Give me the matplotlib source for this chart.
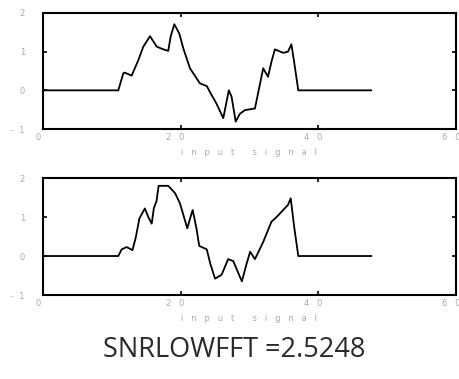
import matplotlib
matplotlib.use('Agg')
import matplotlib.pyplot as plt
from matplotlib.ticker import FuncFormatter
from matplotlib.transforms import ScaledTranslation

# traced vertices of the two signals
x_top = [0, 10.94, 11.67, 11.87, 12.88, 13.85, 14.58, 15.55, 16.52, 17.49, 18.2, 18.55,
         19.08, 19.8, 20.4, 21.36, 22.8, 23.8, 24.5, 25.2, 26.2, 27.0, 27.4, 28.0, 28.6,
         29.35, 30.8, 31.4, 32.0, 32.7, 33.2, 33.7, 34.9, 35.6, 36.1, 36.6, 37.1, 47.7]
y_top = [0, 0, 0.44, 0.46, 0.38, 0.78, 1.13, 1.40, 1.13, 1.06, 1.02, 1.39,
         1.71, 1.47, 1.08, 0.57, 0.18, 0.11, -0.12, -0.34, -0.72, 0.0, -0.16, -0.81, -0.61,
         -0.51, -0.47, 0.05, 0.57, 0.35, 0.74, 1.06, 0.97, 1.0, 1.19, 0.61, 0, 0]

x_bot = [0, 10.94, 11.43, 12.16, 13.0, 13.5, 14.0, 14.8, 15.3, 15.8, 16.1, 16.5, 16.8,
         18.2, 19.2, 19.9, 20.4, 20.97, 21.4, 21.75, 22.3, 22.7, 23.8, 24.3, 25.0, 25.96,
         26.9, 27.65, 28.9, 29.6, 30.1, 30.8, 32.0, 33.2, 33.95, 35.6, 36.0, 36.5, 37.1, 47.7]
y_bot = [0, 0, 0.17, 0.23, 0.15, 0.49, 0.96, 1.22, 1.0, 0.83, 1.22, 1.41, 1.80,
         1.80, 1.61, 1.35, 1.05, 0.71, 0.98, 1.18, 0.71, 0.26, 0.17, -0.19, -0.58, -0.48,
         -0.08, -0.13, -0.65, -0.19, 0.11, -0.08, 0.36, 0.88, 1.0, 1.31, 1.48, 0.75, 0, 0]

xticks = [0, 20, 40, 60]
yticks = [-1, 0, 1, 2]
xlabel = 'input signal'
title = 'SNRLOWFFT =2.5248'

gap = '   '
xfmt = FuncFormatter(lambda v, p: gap.join('%d' % v))
yfmt = FuncFormatter(lambda v, p: '  '.join('%d' % v))
grey = '#aaaaaa'

fig = plt.figure(figsize=(4.6, 3.79), dpi=100)
ax1 = fig.add_axes([0.0935, 0.6596, 0.8975, 0.3061])
ax2 = fig.add_axes([0.0935, 0.2216, 0.8975, 0.3087])
shift = ScaledTranslation(-5 / 100, 0, fig.dpi_scale_trans)

for ax, xs, ys in [(ax1, x_top, y_top), (ax2, x_bot, y_bot)]:
    ax.plot(xs, ys, color='black', lw=1.3)
    ax.set_xlim(0, 60)
    ax.set_ylim(-1, 2)
    ax.set_xticks(xticks)
    ax.set_yticks(yticks)
    ax.xaxis.set_major_formatter(xfmt)
    ax.yaxis.set_major_formatter(yfmt)
    ax.tick_params(direction='in', length=3, width=1.2, top=True, right=True,
                   labelsize=6, labelcolor=grey)
    ax.tick_params(axis='x', pad=3)
    ax.tick_params(axis='y', pad=13)
    for lab in ax.get_xticklabels():
        lab.set_transform(lab.get_transform() + shift)
    for s in ax.spines.values():
        s.set_linewidth(1.5)
    ax.set_xlabel(gap.join(xlabel), fontsize=6, color=grey, labelpad=4)

fig.text(0.51, 0.077, title, ha='center', va='center', fontsize=19.5,
         family='Open Sans', color='#2a2a2a')

fig.savefig('out.png', dpi=100)
